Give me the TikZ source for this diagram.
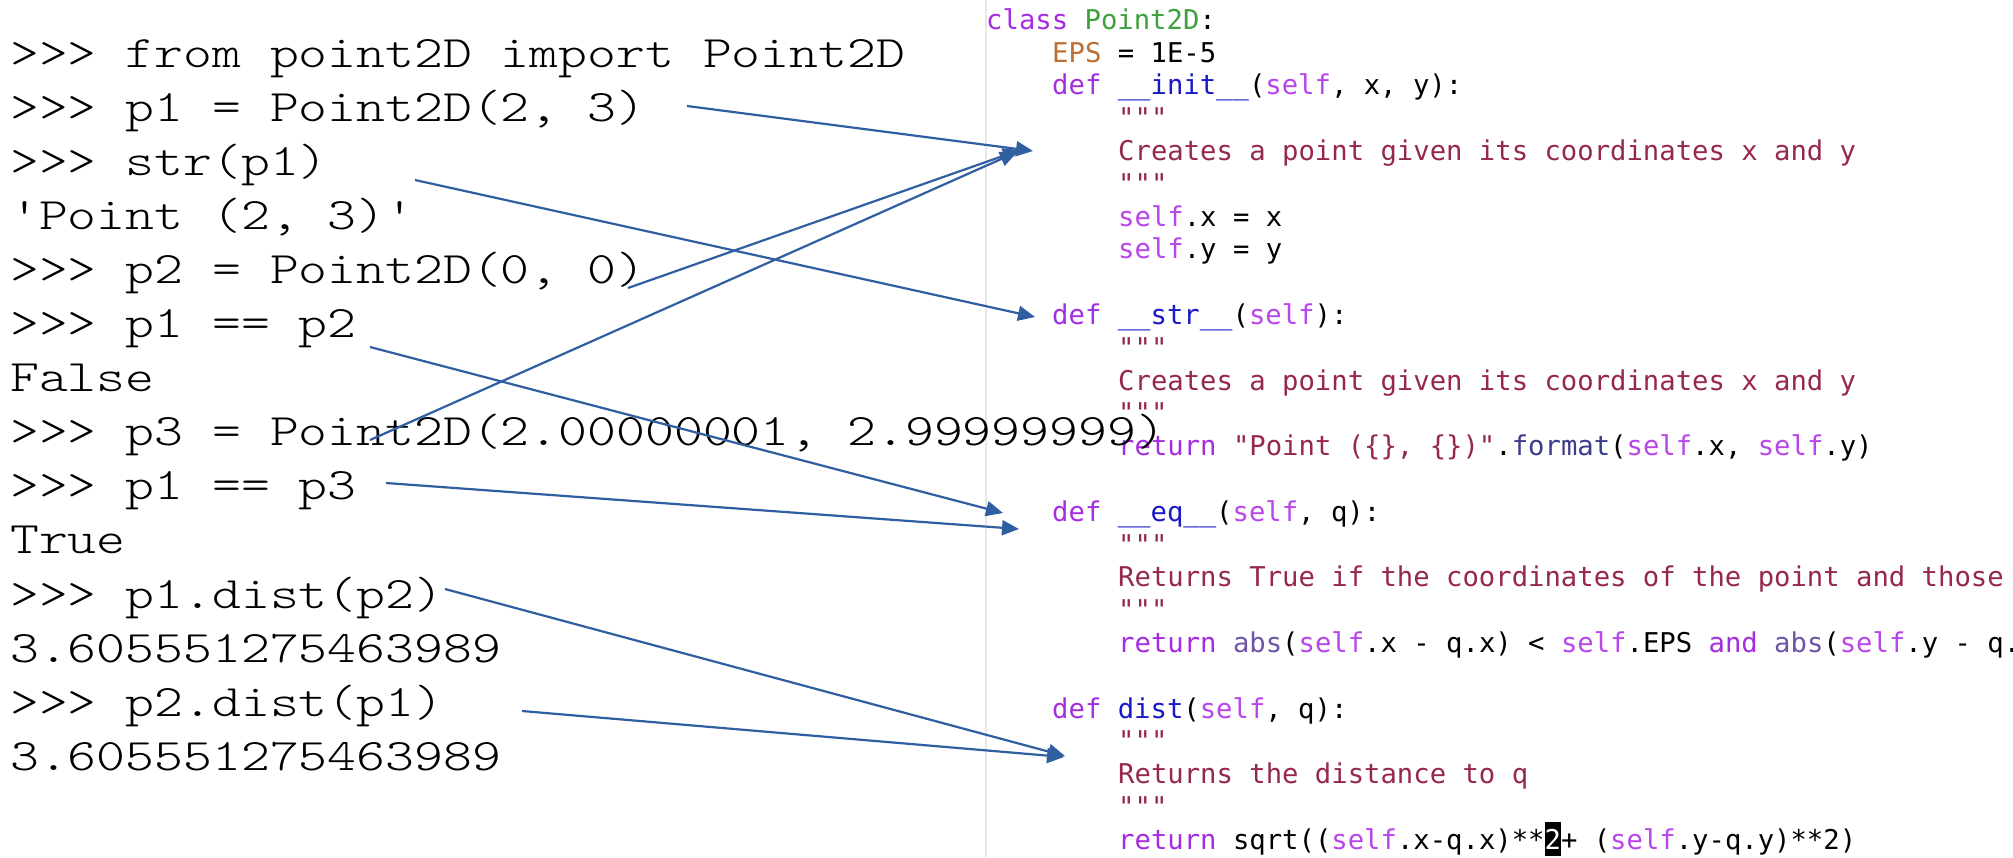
\documentclass[tikz,border=0pt]{standalone}
\usepackage{fontspec}
\usetikzlibrary{arrows.meta}
\newfontfamily\codefont{DejaVu Sans Mono}
\definecolor{kw}{RGB}{165,45,225}
\definecolor{sf}{RGB}{185,70,235}
\definecolor{cls}{RGB}{60,160,60}
\definecolor{eps}{RGB}{190,110,50}
\definecolor{fn}{RGB}{25,25,200}
\definecolor{doc}{RGB}{150,40,80}
\definecolor{fmt}{RGB}{60,60,140}
\definecolor{ab}{RGB}{110,85,165}
\definecolor{arrowc}{RGB}{47,95,160}
\definecolor{border}{RGB}{232,232,232}
\newcommand{\kwd}[1]{\textcolor{kw}{#1}}
\newcommand{\slf}{\textcolor{sf}{self}}
\newcommand{\dq}{\textcolor{doc}{"""}}
\newcommand{\dc}[1]{\textcolor{doc}{#1}}
\newcommand{\sh}[1]{\scalebox{1.222}[1]{#1}}
\tikzset{
  shell/.style={anchor=base west, inner sep=0pt, font=\ttfamily\fontseries{l}\fontsize{45}{54}\selectfont},
  code/.style={anchor=base west, inner sep=0pt, font=\codefont\fontsize{27.24}{33}\selectfont},
  arr/.style={draw=arrowc, line width=2.2pt, -{Triangle[length=17pt,width=15pt]}}
}
\begin{document}
\begin{tikzpicture}[x=1pt,y=-1pt]
\useasboundingbox (0,0) rectangle (2013,857);
\fill[white] (0,0) rectangle (2013,857);
% editor border
\coordinate (bt) at (985.5,0);
\coordinate (bb) at (985.5,857);
\draw[border, line width=2pt] (bt) -- (bb);
% right: code
\node[code] (c0)  at (986,29.3)  {\kwd{class} \textcolor{cls}{Point2D}:};
\node[code] (c1)  at (1052,62.1) {\textcolor{eps}{EPS} = 1E-5};
\node[code] (c2)  at (1052,94.9) {\kwd{def} \textcolor{fn}{\_\_init\_\_}(\slf, x, y):};
\node[code] (c3)  at (1118,127.7) {\dq};
\node[code] (c4)  at (1118,160.5) {\dc{Creates a point given its coordinates x and y}};
\node[code] (c5)  at (1118,193.3) {\dq};
\node[code] (c6)  at (1118,226.1) {\slf.x = x};
\node[code] (c7)  at (1118,258.9) {\slf.y = y};
\node[code] (c9)  at (1052,324.5) {\kwd{def} \textcolor{fn}{\_\_str\_\_}(\slf):};
\node[code] (c10) at (1118,357.3) {\dq};
\node[code] (c11) at (1118,390.1) {\dc{Creates a point given its coordinates x and y}};
\node[code] (c12) at (1118,422.9) {\dq};
\node[code] (c13) at (1118,455.7) {\kwd{return} \dc{"Point (\{\}, \{\})"}.\textcolor{fmt}{format}(\slf.x, \slf.y)};
\node[code] (c15) at (1052,521.3) {\kwd{def} \textcolor{fn}{\_\_eq\_\_}(\slf, q):};
\node[code] (c16) at (1118,554.1) {\dq};
\node[code] (c17) at (1118,586.9) {\dc{Returns True if the coordinates of the point and those}};
\node[code] (c18) at (1118,619.7) {\dq};
\node[code] (c19) at (1118,652.5) {\kwd{return} \textcolor{ab}{abs}(\slf.x - q.x) < \slf.EPS \kwd{and} \textcolor{ab}{abs}(\slf.y - q.};
\node[code] (c21) at (1052,718.1) {\kwd{def} \textcolor{fn}{dist}(\slf, q):};
\node[code] (c22) at (1118,750.9) {\dq};
\node[code] (c23) at (1118,783.7) {\dc{Returns the distance to q}};
\node[code] (c24) at (1118,816.5) {\dq};
\node[code] (c25) at (1118,849.3) {\kwd{return} sqrt((\slf.x-q.x)**{\setlength\fboxsep{0pt}\colorbox{black}{\rule[-7pt]{0pt}{34pt}\textcolor{white}{2}}}+ (\slf.y-q.y)**2)};
% left: shell session
\node[shell] (l1)  at (10,67.0)  {\sh{>>> from point2D import Point2D}};
\node[shell] (l2)  at (10,121.1) {\sh{>>> p1 = Point2D(2, 3)}};
\node[shell] (l3)  at (10,175.2) {\sh{>>> str(p1)}};
\node[shell] (l4)  at (10,229.3) {\sh{\symbol{"27}Point (2, 3)\symbol{"27}}};
\node[shell] (l5)  at (10,283.4) {\sh{>>> p2 = Point2D(0, 0)}};
\node[shell] (l6)  at (10,337.5) {\sh{>>> p1 == p2}};
\node[shell] (l7)  at (10,391.6) {\sh{False}};
\node[shell] (l8)  at (10,445.7) {\sh{>>> p3 = Point2D(2.00000001, 2.99999999)}};
\node[shell] (l9)  at (10,499.8) {\sh{>>> p1 == p3}};
\node[shell] (l10) at (10,553.9) {\sh{True}};
\node[shell] (l11) at (10,608.0) {\sh{>>> p1.dist(p2)}};
\node[shell] (l12) at (10,662.1) {\sh{3.605551275463989}};
\node[shell] (l13) at (10,716.2) {\sh{>>> p2.dist(p1)}};
\node[shell] (l14) at (10,770.3) {\sh{3.605551275463989}};
% arrow ends
\coordinate (s1) at (687,106);  \coordinate (e1) at (1033,151);
\coordinate (s2) at (415,180);  \coordinate (e2) at (1035,317);
\coordinate (s3) at (628,288);  \coordinate (e3) at (1020,150);
\coordinate (s4) at (370,347);  \coordinate (e4) at (1003,513);
\coordinate (s5) at (386,483);  \coordinate (e5) at (1019,529);
\coordinate (s6) at (445,589);  \coordinate (e6) at (1065,756);
\coordinate (s7) at (522,711);  \coordinate (e7) at (1064,757);
\coordinate (s8) at (370,440);  \coordinate (e8) at (1017,152);
\draw[arr] (s1) -- (e1);
\draw[arr] (s2) -- (e2);
\draw[arr] (s3) -- (e3);
\draw[arr] (s4) -- (e4);
\draw[arr] (s5) -- (e5);
\draw[arr] (s6) -- (e6);
\draw[arr] (s7) -- (e7);
\draw[arr] (s8) -- (e8);
\end{tikzpicture}
\end{document}
